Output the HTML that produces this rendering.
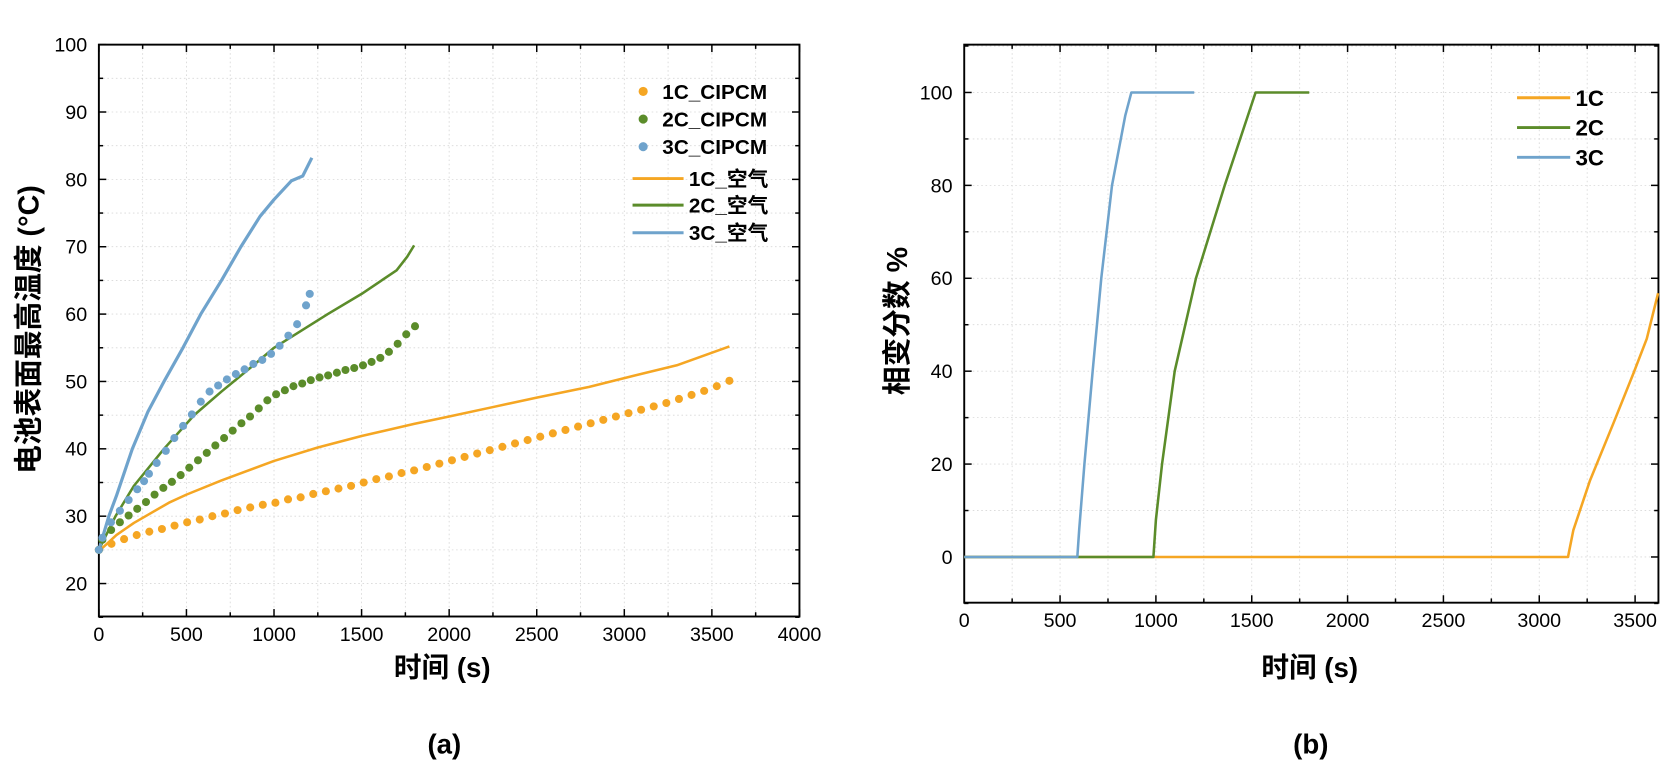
<!DOCTYPE html>
<html><head><meta charset="utf-8"><style>
html,body{margin:0;padding:0;background:#fff;}
svg{display:block;font-family:"Liberation Sans","Noto Sans CJK SC",sans-serif;}
</style></head><body>
<svg id="fig" width="1668" height="760" viewBox="0 0 1569 715" preserveAspectRatio="none" xmlns="http://www.w3.org/2000/svg">
<g id="chartA"></g>
<g id="chartB"></g>
</svg>
<script>
// ---- Chart (a) data ----
const aT1 = [0,72,144,216,288,360,432,504,576,648,720,792,864,936,1008,1080,1152,1224,1296,1368,1440,1512,1584,1656,1728,1800,1872,1944,2016,2088,2160,2232,2304,2376,2448,2520,2592,2664,2736,2808,2880,2952,3024,3096,3168,3240,3312,3384,3456,3528,3600];
const aV1 = [25,25.9,26.6,27.2,27.7,28.1,28.6,29.1,29.5,30.0,30.4,30.9,31.3,31.7,32.0,32.5,32.8,33.3,33.7,34.1,34.5,35.0,35.5,35.9,36.4,36.8,37.3,37.8,38.3,38.8,39.3,39.8,40.3,40.8,41.3,41.8,42.3,42.8,43.3,43.8,44.3,44.8,45.3,45.8,46.3,46.8,47.4,48.0,48.6,49.3,50.1];
const aT2 = [0,20,70,120,170,219,269,318,368,417,467,516,566,616,665,715,764,814,863,913,962,1012,1062,1111,1161,1210,1260,1309,1359,1408,1458,1508,1557,1607,1656,1706,1755,1805];
const aV2 = [25,26.5,27.95,29.1,30.1,31.1,32.1,33.2,34.2,35.1,36.1,37.2,38.3,39.4,40.5,41.6,42.7,43.8,44.8,46.0,47.2,48.1,48.7,49.3,49.7,50.2,50.6,50.9,51.3,51.7,52.0,52.4,52.9,53.5,54.4,55.6,57.0,58.2];
const aT3 = [0,20,69,120,170,219,258,286,330,382,431,481,531,582,632,681,731,782,832,882,933,983,1032,1082,1132,1183,1204];
const aV3 = [25,26.8,29.1,30.8,32.4,34.0,35.2,36.3,37.9,39.7,41.6,43.4,45.1,47.0,48.5,49.4,50.3,51.1,51.8,52.6,53.2,54.1,55.3,56.8,58.5,61.3,63.0];
const aLT1 = [0,50,100,200,300,400,500,700,1000,1250,1500,1800,2000,2250,2500,2800,3000,3300,3600];
const aLV1 = [24.8,26,27.2,29,30.5,32,33.2,35.3,38.2,40.2,41.9,43.7,44.8,46.2,47.6,49.2,50.5,52.4,55.2];
const aLT2 = [0,95,200,372,544,700,887,1000,1307,1500,1700,1760,1800];
const aLV2 = [25,30,34.5,40,45,48.5,52.5,55,60,63,66.5,68.5,70.2];
const aLT3 = [0,57,100,191,280,372,480,582,700,811,920,1000,1100,1164,1216];
const aLV3 = [25,30,33,40,45.5,50,55,60,65,70,74.5,77,79.8,80.5,83.2];
const aXTicks = [0,500,1000,1500,2000,2500,3000,3500,4000];
const aYTicks = [20,30,40,50,60,70,80,90,100];
// ---- Chart (b) data ----
const bT1 = [0,3150,3178,3265,3387,3491,3561,3620];
const bV1 = [0,0,5.8,16.5,28.8,39.5,47,56.8];
const bT2 = [0,987,1000,1032,1098,1209,1359,1520,1800];
const bV2 = [0,0,8,20,40,60,80,100,100];
const bT3 = [0,590,600,627,670,715,771,840,872,1200];
const bV3 = [0,0,6,20,40,60,80,95,100,100];
const bXTicks = [0,500,1000,1500,2000,2500,3000,3500];
const bYTicks = [0,20,40,60,80,100];

const NS="http://www.w3.org/2000/svg";
const C1="#F5A623",C2="#5B8C2A",C3="#6FA3CC";
function mk(parent,tag,attrs,text){const e=document.createElementNS(NS,tag);for(const k in attrs)e.setAttribute(k,attrs[k]);if(text!==undefined)e.textContent=text;parent.appendChild(e);return e;}

function axes(g,L,R,T,B,xs,ys,xMinor,yMinor,xMax,yMin,yMax,xTicks,yTicks){
  for(let v=0;v<=xMax+0.001;v+=xMinor){const x=xs(v);if(x>L+1&&x<R-1){const l=mk(g,'line',{x1:x,x2:x,y1:T,y2:B,stroke:'#d8d8d8','stroke-width':0.8,'stroke-dasharray':'1.5,2.5'});}}
  for(let v=Math.ceil(yMin/yMinor)*yMinor;v<=yMax;v+=yMinor){const y=ys(v);if(y>T+1&&y<B-1){const l=mk(g,'line',{x1:L,x2:R,y1:y,y2:y,stroke:'#d8d8d8','stroke-width':0.8,'stroke-dasharray':'1.5,2.5'});}}
  for(let v=0;v<=xMax+0.001;v+=xMinor){const x=xs(v);const major=xTicks.includes(v);const len=major?7:4;
    const t1=mk(g,'line',{x1:x,x2:x,y1:B,y2:B-len,stroke:'#000','stroke-width':1.4});
    const t2=mk(g,'line',{x1:x,x2:x,y1:T,y2:T+len,stroke:'#000','stroke-width':1.4});}
  for(let v=Math.ceil(yMin/yMinor)*yMinor;v<=yMax;v+=yMinor){const y=ys(v);const major=yTicks.includes(v);const len=major?7:4;
    const t1=mk(g,'line',{x1:L,x2:L+len,y1:y,y2:y,stroke:'#000','stroke-width':1.4});
    const t2=mk(g,'line',{x1:R,x2:R-len,y1:y,y2:y,stroke:'#000','stroke-width':1.4});}
  xTicks.forEach(v=>{const t=mk(g,'text',{x:xs(v),y:B+23,'text-anchor':'middle','font-size':18.5},String(v));});
  yTicks.forEach(v=>{const t=mk(g,'text',{x:L-11,y:ys(v)+6.5,'text-anchor':'end','font-size':18.5},String(v));});
  const fr=mk(g,'rect',{x:L,y:T,width:R-L,height:B-T,fill:'none',stroke:'#000','stroke-width':1.8});
}
function linePath(g,ts,vs,xs,ys,color,name,w){
  const d=ts.map((t,i)=>(i?'L':'M')+xs(t).toFixed(2)+','+ys(vs[i]).toFixed(2)).join(' ');
  const p=mk(g,'path',{d:d,fill:'none',stroke:color,'stroke-width':w||2.4,'stroke-linejoin':'round'});
  
  
}
function dots(g,ts,vs,xs,ys,color,name){
  ts.forEach((t,i)=>{const c=mk(g,'circle',{cx:xs(t),cy:ys(vs[i]),r:3.8,fill:color});
    
    });
}

// Chart A
(function(){
  const g=document.getElementById('chartA');
  const L=93,R=752,T=42,B=580;
  const xs=v=>L+(v/4000)*(R-L);
  const ys=v=>549-(v-20)*6.3375;
  axes(g,L,R,T,B,xs,ys,250,5,4000,15,100,aXTicks,aYTicks);
  linePath(g,aLT1,aLV1,xs,ys,C1,'line-1c-air',2.4);
  linePath(g,aLT2,aLV2,xs,ys,C2,'line-2c-air',2.4);
  linePath(g,aLT3,aLV3,xs,ys,C3,'line-3c-air',3);
  dots(g,aT1,aV1,xs,ys,C1,'point-1c-cipcm');
  dots(g,aT2,aV2,xs,ys,C2,'point-2c-cipcm');
  dots(g,aT3,aV3,xs,ys,C3,'point-3c-cipcm');
  const leg=mk(g,'g',{});
  [['1C_CIPCM',C1,86],['2C_CIPCM',C2,112],['3C_CIPCM',C3,138]].forEach(([s,c,y])=>{
    const e=mk(leg,'g',{});
    mk(e,'circle',{cx:605,cy:y,r:4.3,fill:c});
    mk(e,'text',{x:623,y:y+7,'font-size':19.5,'font-weight':'bold'},s);});
  [['1C_空气',C1,168],['2C_空气',C2,193],['3C_空气',C3,219]].forEach(([s,c,y])=>{
    const e=mk(leg,'g',{});
    mk(e,'line',{x1:595,x2:643,y1:y,y2:y,stroke:c,'stroke-width':2.8});
    mk(e,'text',{x:648,y:y+7,'font-size':19.5,'font-weight':'bold'},s);});
  const xt=mk(g,'text',{x:416,y:637,'text-anchor':'middle','font-size':26,'font-weight':'bold'},'时间 (s)');
  const yt=mk(g,'text',{x:0,y:0,'text-anchor':'middle','font-size':27,'font-weight':'bold',transform:'translate(36,310) rotate(-90)'},'电池表面最高温度 (°C)');
  const cap=mk(g,'text',{x:418,y:709,'text-anchor':'middle','font-size':26,'font-weight':'bold'},'(a)');
})();

// Chart B
(function(){
  const g=document.getElementById('chartB');
  const L=907,R=1560,T=42,B=567;
  const xs=v=>L+v*0.1803;
  const ys=v=>524-v*4.37;
  axes(g,L,R,T,B,xs,ys,250,10,3620,-10,110,bXTicks,bYTicks);
  linePath(g,bT1,bV1,xs,ys,C1,'line-1c',2.4);
  linePath(g,bT2,bV2,xs,ys,C2,'line-2c',2.4);
  linePath(g,bT3,bV3,xs,ys,C3,'line-3c',2.4);
  const leg=mk(g,'g',{});
  [['1C',C1,92],['2C',C2,120],['3C',C3,148]].forEach(([s,c,y])=>{
    const e=mk(leg,'g',{});
    mk(e,'line',{x1:1427,x2:1477,y1:y,y2:y,stroke:c,'stroke-width':2.8});
    mk(e,'text',{x:1482,y:y+7.5,'font-size':21,'font-weight':'bold'},s);});
  const xt=mk(g,'text',{x:1232,y:637,'text-anchor':'middle','font-size':26,'font-weight':'bold'},'时间 (s)');
  const yt=mk(g,'text',{x:0,y:0,'text-anchor':'middle','font-size':27,'font-weight':'bold',transform:'translate(853,302) rotate(-90)'},'相变分数 %');
  const cap=mk(g,'text',{x:1233,y:709,'text-anchor':'middle','font-size':26,'font-weight':'bold'},'(b)');
})();
</script>
</body></html>
